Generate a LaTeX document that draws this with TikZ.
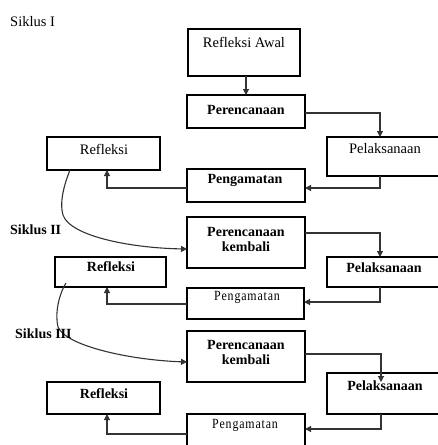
\documentclass[tikz,border=0pt]{standalone}
\usepackage{fontspec}
\setmainfont{Liberation Serif}
\newfontfamily\narrowfont[LetterSpace=6,FakeStretch=0.85]{Liberation Serif}
\usetikzlibrary{arrows.meta,calc}
\begin{document}
\begin{tikzpicture}[x=1pt,y=1pt,
  boxst/.style={draw=black,line width=1.1pt,inner sep=0pt,outer sep=0pt,anchor=north west},
  lbl/.style={font=\fontsize{14.5}{16}\selectfont,inner sep=0pt},
  nlbl/.style={font=\narrowfont\fontsize{14}{16}\selectfont,inner sep=0pt},
  blbl/.style={font=\fontsize{14}{16}\selectfont\bfseries,inner sep=0pt},
  conn/.style={draw=black!80,line width=1.1pt},
  arr/.style={conn,-{Triangle[length=6pt,width=6pt]}},
  thickedge/.style={line width=2.4pt}]
\fill[white] (0,0) rectangle (438,-445);
\useasboundingbox (0,0) rectangle (438,-445);

% Siklus labels
\node[lbl,anchor=west] (s1) at (10,-22) {Siklus I};
\node[blbl,anchor=west] (s2) at (10,-230) {Siklus II};

% Cycle I boxes
\node[boxst,minimum width=112pt,minimum height=47pt] (RA) at (188,-29) {};
\node[boxst,minimum width=118pt,minimum height=33pt] (P1) at (187,-95) {};
\node[boxst,minimum width=113pt,minimum height=39pt] (L1) at (327,-137) {};
\node[boxst,minimum width=118pt,minimum height=33pt] (G1) at (187,-169) {};
\node[boxst,minimum width=113pt,minimum height=33pt] (R1) at (47,-137) {};
\draw[thickedge] (P1.north east) -- (P1.south east);
\draw[thickedge] (G1.north east) -- (G1.south east);

\node[lbl] (tRA) at (244,-42) {Refleksi Awal};
\node[blbl] (tP1) at (246,-110) {Perencanaan};
\node[lbl] (tL1) at (385,-149) {Pelaksanaan};
\node[blbl] (tG1) at (245,-180) {Pengamatan};
\node[lbl] (tR1) at (104,-149) {Refleksi};

% Cycle II boxes
\node[boxst,minimum width=118pt,minimum height=51pt] (K2) at (187,-217) {};
\node[boxst,minimum width=113pt,minimum height=30pt] (L2) at (327,-257) {};
\node[boxst,minimum width=117pt,minimum height=31pt] (G2) at (187,-288) {};
\node[boxst,minimum width=111pt,minimum height=30pt] (R2) at (55,-257) {};
\draw[thickedge] (K2.north east) -- (K2.south east);

\node[blbl,align=center] (tK2) at (246,-239) {Perencanaan\\[-1pt]kembali};
\node[blbl] (tL2) at (384,-268) {Pelaksanaan};
\node[nlbl] (tG2) at (247,-297) {Pengamatan};
\node[blbl] (tR2) at (111,-267) {Refleksi};

% Cycle III boxes
\node[boxst,minimum width=118pt,minimum height=51pt] (K3) at (187,-331) {};
\node[boxst,minimum width=113pt,minimum height=41pt] (L3) at (327,-373) {};
\node[boxst,minimum width=118pt,minimum height=40pt] (G3) at (187,-414) {};
\node[boxst,minimum width=113pt,minimum height=32pt] (R3) at (47,-382) {};
\draw[thickedge] (K3.north east) -- (K3.south east);

\node[blbl,align=center] (tK3) at (246,-352) {Perencanaan\\[-1pt]kembali};
\node[blbl] (tL3) at (385,-386) {Pelaksanaan};
\node[nlbl] (tG3) at (245,-425) {Pengamatan};
\node[blbl] (tR3) at (104,-394) {Refleksi};

% Cycle I connectors
\draw[arr] ($(RA.south west)+(58,0)$) -- ($(P1.north west)+(59,0)$);
\draw[arr] ($(P1.north east)+(0,-18)$) -| ($(L1.north west)+(53,0)$);
\draw[arr] ($(L1.south west)+(53,0)$) |- ($(G1.north east)+(0,-19)$);
\draw[arr] ($(G1.north west)+(0,-19)$) -| ($(R1.south west)+(60,0)$);
\draw[arr] ($(R1.south west)+(23,0)$) .. controls (62,-190) and (60,-205) .. (63,-215)
  .. controls (70,-236) and (130,-248) .. ($(K2.north west)+(0,-32)$);

% Cycle II connectors
\draw[arr] ($(K2.north east)+(0,-16)$) -| ($(L2.north west)+(53,0)$);
\draw[arr] ($(L2.south west)+(53,0)$) |- ($(G2.north east)+(0,-14)$);
\draw[arr] ($(G2.north west)+(0,-16)$) -| ($(R2.south west)+(52,0)$);
\draw[arr] ($(R2.south west)+(11,4)$) .. controls (58,-296) and (55,-315) .. (58,-327)
  .. controls (66,-346) and (130,-360) .. ($(K3.north west)+(0,-31)$);

% Siklus III label (over curve)
\node[blbl,anchor=west] (s3) at (15,-334) {Siklus III};

% Cycle III connectors
\draw[arr] ($(K3.north east)+(0,-23)$) -| ($(L3.north west)+(54,-9)$);
\draw[arr] ($(L3.south west)+(54,0)$) |- ($(G3.north east)+(0,-15)$);
\draw[arr] ($(G3.north west)+(0,-20)$) -| ($(R3.south west)+(60,0)$);
\end{tikzpicture}
\end{document}
